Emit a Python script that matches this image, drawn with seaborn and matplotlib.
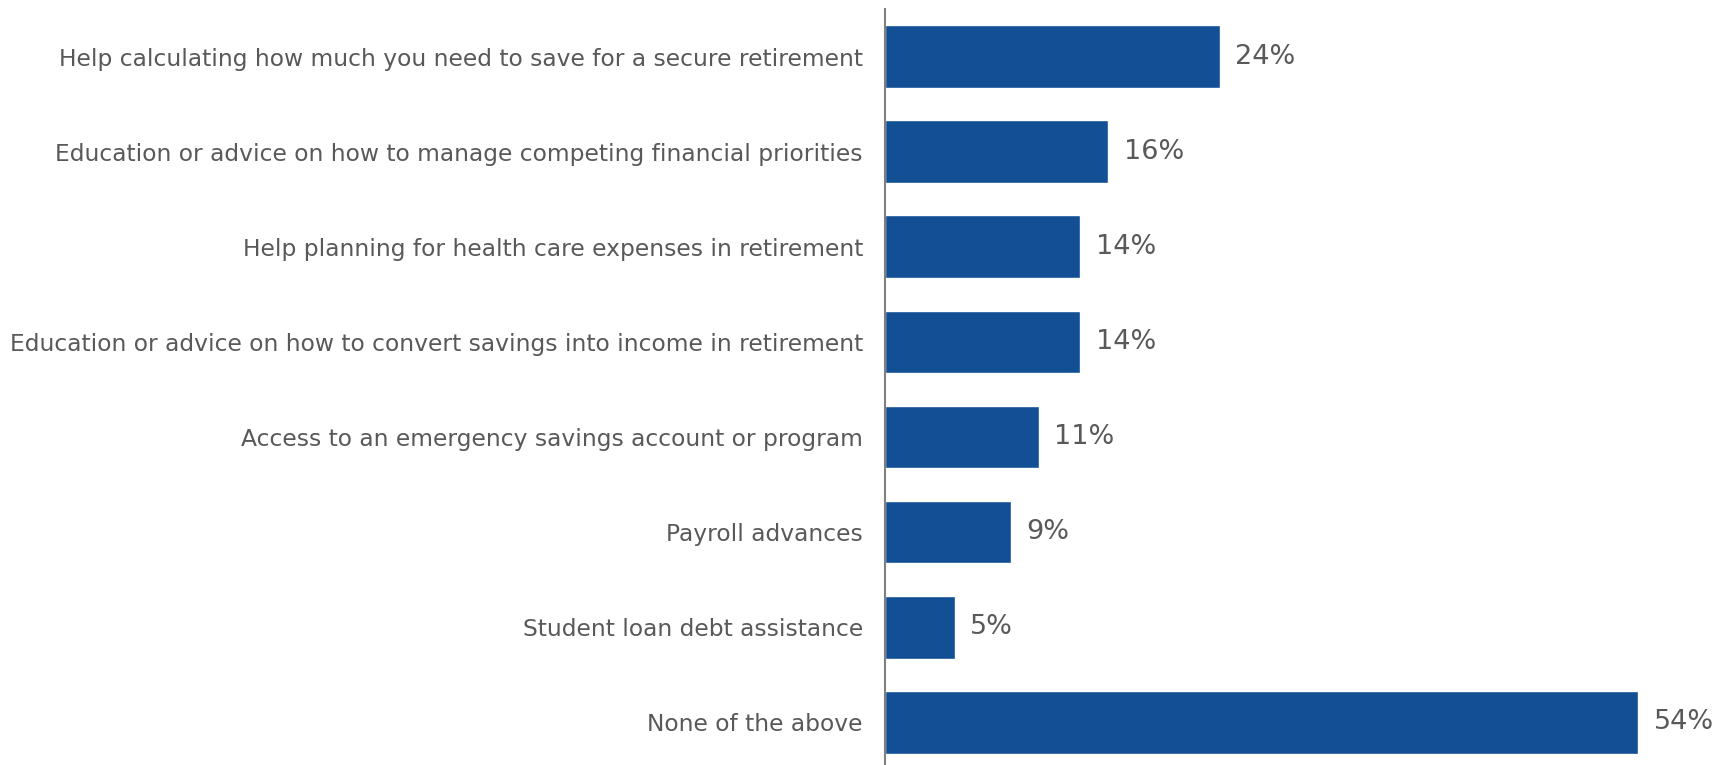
import matplotlib
matplotlib.use("Agg")
import matplotlib.pyplot as plt
import pandas as pd
import seaborn as sns

categories = [
    "Help calculating how much you need to save for a secure retirement",
    "Education or advice on how to manage competing financial priorities",
    "Help planning for health care expenses in retirement",
    "Education or advice on how to convert savings into income in retirement",
    "Access to an emergency savings account or program",
    "Payroll advances",
    "Student loan debt assistance",
    "None of the above",
]
values = [24, 16, 14, 14, 11, 9, 5, 54]

df = pd.DataFrame({"category": categories, "value": values})

sns.set_style("white")
plt.rcParams["font.family"] = ["DejaVu Sans"]

bar_color = "#124F95"
text_color = "#595959"

fig = plt.figure(figsize=(17.22, 7.65), dpi=100)
ax = fig.add_axes([0.514, 0.0, 0.486, 0.988])

sns.barplot(data=df, x="value", y="category", color=bar_color, width=0.66,
            saturation=1, ax=ax)

ax.set_xlim(0, 60)
ax.set_ylim(7.45, -0.5)

# value labels just past the bar ends
for i, v in enumerate(values):
    ax.text(v + 1.1, i, f"{v}%", va="center", ha="left", fontsize=19.5, color=text_color)

ax.set_xlabel("")
ax.set_ylabel("")
ax.set_xticks([])
ax.tick_params(axis="y", length=0, pad=16, labelsize=16.8, labelcolor=text_color)
for s in ["top", "right", "bottom"]:
    ax.spines[s].set_visible(False)
ax.spines["left"].set_color("#7f7f7f")
ax.spines["left"].set_linewidth(1.5)

plt.savefig("out.png", dpi=100)
